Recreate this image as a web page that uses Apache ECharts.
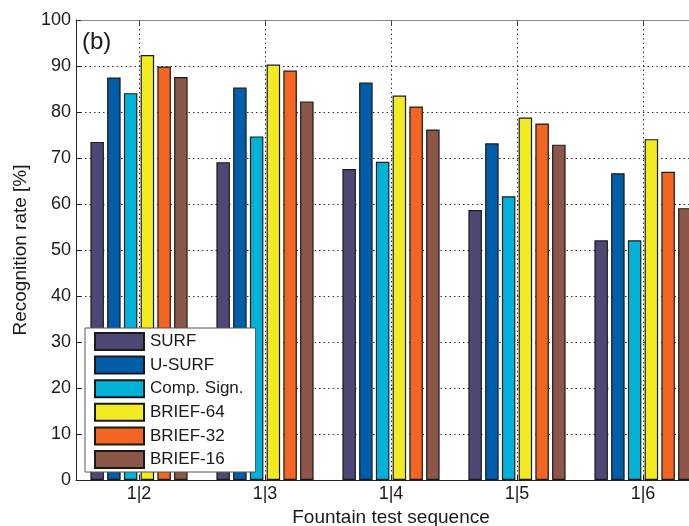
<!DOCTYPE html>
<html>
<head>
<meta charset="utf-8">
<script src="https://cdn.jsdelivr.net/npm/echarts@6/dist/echarts.min.js"></script>
<style>html,body{margin:0;padding:0;background:#fff;}#c{width:689px;height:526px;}</style>
</head>
<body>
<div id="c"></div>
<script>
const categories = ['1|2', '1|3', '1|4', '1|5', '1|6'];
const seriesNames = ['SURF', 'U-SURF', 'Comp. Sign.', 'BRIEF-64', 'BRIEF-32', 'BRIEF-16'];
const surf     = [73.5, 69.1, 67.6, 58.7, 52.1];
const uSurf    = [87.5, 85.3, 86.4, 73.2, 66.7];
const compSign = [84.1, 74.7, 69.2, 61.7, 52.1];
const brief64  = [92.4, 90.3, 83.6, 78.8, 74.1];
const brief32  = [89.9, 89.0, 81.2, 77.5, 67.0];
const brief16  = [87.6, 82.3, 76.2, 72.9, 59.1];
const yTicks = [0, 10, 20, 30, 40, 50, 60, 70, 80, 90, 100];
const colors = ['#4E4877', '#005DAA', '#00B2D8', '#F2EB22', '#F26522', '#8C5749'];
const values = [surf, uSurf, compSign, brief64, brief32, brief16];
// helper half-step positions so vertical grid lines fall on category centres
const halfSteps = ['0.5','1','1.5','2','2.5','3','3.5','4','4.5','5','5.5'];

const font = 'Liberation Sans, Arial, Helvetica, sans-serif';
const txt = '#1a1a1a';
const gridLine = { show: true, lineStyle: { color: '#333', width: 1, type: [1.5, 3] } };

const chart = echarts.init(document.getElementById('c'), null, { renderer: 'canvas' });
chart.setOption({
  animation: false,
  backgroundColor: '#fff',
  textStyle: { fontFamily: font },
  grid: { left: 76, top: 20, width: 630, height: 460, show: false, outerBoundsMode: 'none', containLabel: false },
  graphic: [{
    type: 'text', left: 82, top: 30,
    style: { text: '(b)', font: '24px ' + font, fill: txt }
  }],
  legend: {
    orient: 'vertical', left: 85, top: 328,
    padding: [4, 12, 3, 9],
    itemWidth: 49, itemHeight: 17, itemGap: 4.6,
    backgroundColor: '#fff', borderColor: '#555', borderWidth: 1,
    icon: 'rect',
    textStyle: { fontSize: 17, color: txt, fontFamily: font, padding: [0, 0, 0, 1] },
    data: seriesNames
  },
  xAxis: [{
    type: 'category', data: categories, position: 'bottom',
    boundaryGap: true,
    name: 'Fountain test sequence', nameLocation: 'middle', nameGap: 27,
    nameTextStyle: { fontSize: 19, color: txt, fontFamily: font },
    axisLine: { lineStyle: { color: '#222', width: 1 } },
    axisTick: { show: true, inside: true, length: 5, alignWithLabel: true, lineStyle: { color: '#222' } },
    axisLabel: { fontSize: 18, color: txt, margin: 5, fontFamily: font },
    splitLine: { show: false }
  }, {
    type: 'category', data: halfSteps, position: 'top',
    boundaryGap: false,
    axisLine: { show: true, lineStyle: { color: '#888', width: 1 } },
    axisTick: { show: true, inside: true, length: 5, interval: (i) => i % 2 === 1, lineStyle: { color: '#444' } },
    axisLabel: { show: false },
    splitLine: Object.assign({}, gridLine, { interval: (i) => i % 2 === 1 })
  }],
  yAxis: [{
    type: 'value', min: 0, max: 100, interval: 10,
    name: 'Recognition rate [%]', nameLocation: 'middle', nameGap: 41, nameRotate: 90,
    nameTextStyle: { fontSize: 19, color: txt, fontFamily: font },
    axisLine: { show: true, lineStyle: { color: '#222', width: 1 } },
    axisTick: { show: true, inside: true, length: 5, lineStyle: { color: '#222' } },
    axisLabel: { fontSize: 18, color: txt, margin: 5, fontFamily: font,
      formatter: (v) => yTicks.includes(v) ? String(v) : '' },
    splitLine: gridLine
  }],
  series: seriesNames.map((n, i) => ({
    name: n, type: 'bar', xAxisIndex: 0,
    data: values[i],
    barWidth: 13.5, barGap: '24%',
    itemStyle: { color: colors[i], borderColor: '#1a1a1a', borderWidth: 1.2 },
    z: 3
  }))
});
</script>
</body>
</html>
